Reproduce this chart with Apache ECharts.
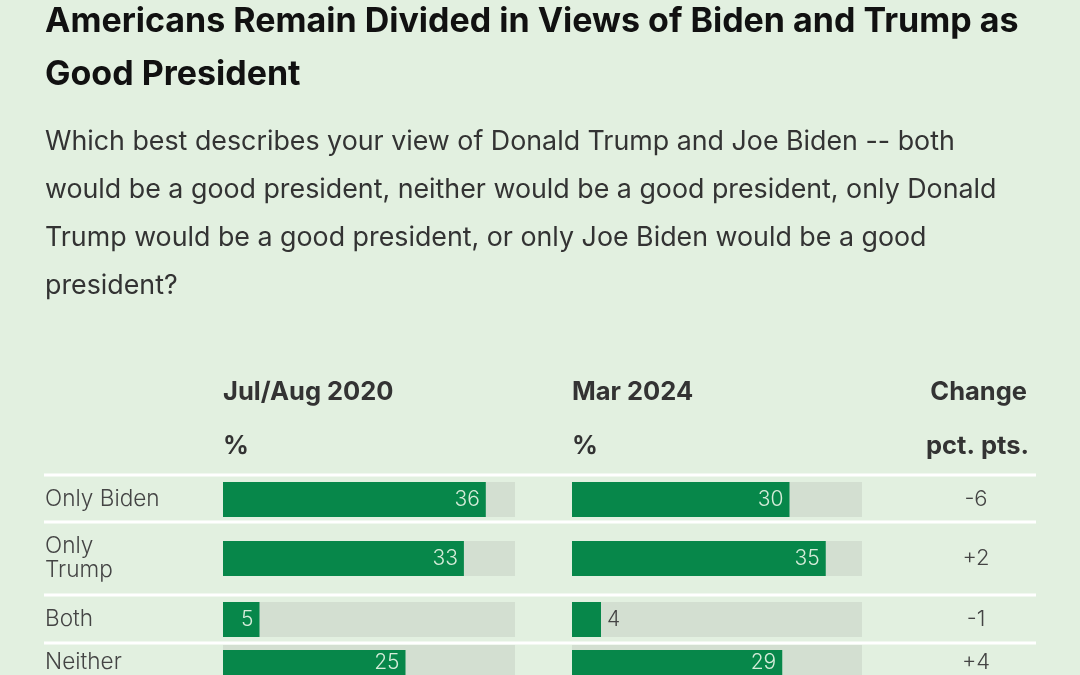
<!DOCTYPE html>
<html>
<head>
<meta charset="utf-8">
<script src="https://cdn.jsdelivr.net/npm/echarts@6/dist/echarts.min.js"></script>
<style>
  html, body { margin: 0; padding: 0; background: #e2f0e0; }
  #main { width: 1080px; height: 675px; }
</style>
</head>
<body>
<div id="main"></div>
<script>
// data
var categories = ['Only Biden', 'Only\nTrump', 'Both', 'Neither'];
var values2020 = [36, 33, 5, 25];
var values2024 = [30, 35, 4, 29];
var changes = [-6, 2, -1, 4];
var axisMax = 40;

var titleLines = [
    'Americans Remain Divided in Views of Biden and Trump as',
    'Good President'
];
var subtitleLines = [
    'Which best describes your view of Donald Trump and Joe Biden -- both',
    'would be a good president, neither would be a good president, only Donald',
    'Trump would be a good president, or only Joe Biden would be a good',
    'president?'
];

// layout
var FONT = 'Inter, "Noto Sans", sans-serif';
var barTops = [482, 541, 602, 650];
var separators = [475, 522, 595, 643];
var col2020 = { left: 223, width: 292 };
var col2024 = { left: 572, width: 290 };
var barH = 35;
var green = '#07874a';

var grids = [], xAxes = [], yAxes = [], series = [];

function barLabel(v) {
    var small = v < 5;
    return {
        show: true,
        position: small ? 'right' : 'insideRight',
        distance: 6,
        color: small ? '#444' : '#d5ecd9',
        fontSize: 21,
        fontWeight: 300,
        fontFamily: FONT
    };
}

for (var i = 0; i < categories.length; i++) {
    var cols = [col2020, col2024];
    var vals = [values2020, values2024];
    for (var c = 0; c < 2; c++) {
        var idx = grids.length;
        grids.push({
            left: cols[c].left, width: cols[c].width,
            top: barTops[i], height: barH
        });
        xAxes.push({
            type: 'value', gridIndex: idx, min: 0, max: axisMax, show: false
        });
        var yax = {
            type: 'category', gridIndex: idx, data: [categories[i]],
            axisLine: { show: false }, axisTick: { show: false },
            splitLine: { show: false }
        };
        if (c === 0) {
            yax.axisLabel = {
                align: 'left', margin: col2020.left - 45,
                color: '#444', fontSize: 22.6, fontWeight: 300, lineHeight: 24, fontFamily: FONT
            };
        } else {
            // change column, shown as axis label on the right
            yax.position = 'right';
            yax.axisLabel = {
                align: 'center', margin: 976 - (col2024.left + col2024.width),
                color: '#444', fontSize: 22, fontWeight: 300, fontFamily: FONT,
                formatter: (function (ch) {
                    return function () { return (ch > 0 ? '+' : '') + ch; };
                })(changes[i])
            };
        }
        yAxes.push(yax);
        series.push({
            type: 'bar', xAxisIndex: idx, yAxisIndex: idx,
            data: [vals[c][i]], barWidth: barH,
            itemStyle: { color: green },
            showBackground: true,
            backgroundStyle: { color: '#d3dfd1' },
            label: barLabel(vals[c][i]),
            silent: true, animation: false
        });
    }
}

var graphics = [];
titleLines.forEach(function (t, k) {
    graphics.push({
        type: 'text', x: 45, y: [22, 75][k],
        style: { text: t, font: 'bold 34px ' + FONT, fill: '#111', textVerticalAlign: 'middle' }
    });
});
subtitleLines.forEach(function (t, k) {
    graphics.push({
        type: 'text', x: 45, y: 142 + k * 48,
        style: { text: t, font: '26.8px ' + FONT, fill: '#333', textVerticalAlign: 'middle' }
    });
});
var heads = [
    { text: 'Jul/Aug 2020', x: 223, y: 392, align: 'left' },
    { text: '%', x: 223, y: 446, align: 'left' },
    { text: 'Mar 2024', x: 572, y: 392, align: 'left' },
    { text: '%', x: 572, y: 446, align: 'left' },
    { text: 'Change', x: 1027, y: 392, align: 'right' },
    { text: 'pct. pts.', x: 1029, y: 446, align: 'right' }
];
heads.forEach(function (h) {
    graphics.push({
        type: 'text', x: h.x, y: h.y,
        style: {
            text: h.text, font: 'bold 25.5px ' + FONT, fill: '#333',
            textAlign: h.align, textVerticalAlign: 'middle'
        }
    });
});
separators.forEach(function (y) {
    graphics.push({
        type: 'line', shape: { x1: 44, y1: y, x2: 1036, y2: y },
        style: { stroke: '#ffffff', lineWidth: 3 }, z: 10
    });
});

var option = {
    backgroundColor: '#e2f0e0',
    animation: false,
    grid: grids,
    xAxis: xAxes,
    yAxis: yAxes,
    series: series,
    graphic: graphics
};

function draw(option) {
    var chartDom = document.getElementById('main');
    var myChart = echarts.init(chartDom, null, { renderer: 'canvas' });
    option && myChart.setOption(option);
}
draw(option);
</script>
</body>
</html>
